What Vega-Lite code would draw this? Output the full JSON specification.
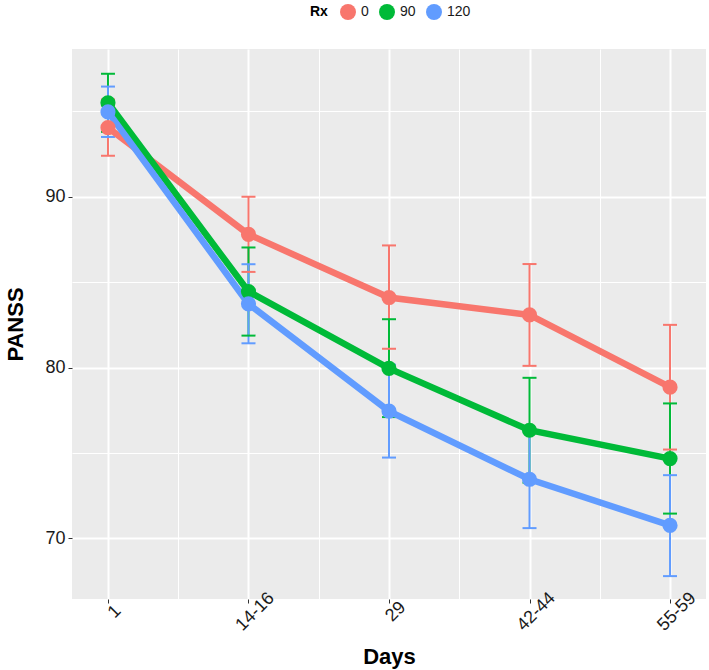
{
  "$schema": "https://vega.github.io/schema/vega-lite/v6.json",
  "autosize": {"type": "none"},
  "width": 634,
  "height": 550,
  "padding": {"left": 72, "top": 49, "right": 3, "bottom": 71},
  "background": "white",
  "config": {
    "font": "Liberation Sans",
    "view": {"fill": "#EBEBEB", "stroke": null},
    "axis": {
      "domain": false,
      "gridColor": "white",
      "tickColor": "#333333",
      "tickWidth": 1,
      "tickSize": 4,
      "labelColor": "#1a1a1a",
      "labelFontSize": 18,
      "labelPadding": 3,
      "titleFontSize": 22,
      "titleFontWeight": "bold",
      "titleColor": "black"
    }
  },
  "data": {
    "values": [
      {"Rx": "0", "day": "1", "idx": 1, "mean": 94.05, "lo": 92.4, "hi": 95.7},
      {"Rx": "0", "day": "14-16", "idx": 2, "mean": 87.8, "lo": 85.6, "hi": 90.0},
      {"Rx": "0", "day": "29", "idx": 3, "mean": 84.1, "lo": 81.1, "hi": 87.15},
      {"Rx": "0", "day": "42-44", "idx": 4, "mean": 83.08, "lo": 80.1, "hi": 86.06},
      {"Rx": "0", "day": "55-59", "idx": 5, "mean": 78.85, "lo": 75.2, "hi": 82.5},
      {"Rx": "90", "day": "1", "idx": 1, "mean": 95.5, "lo": 93.8, "hi": 97.2},
      {"Rx": "90", "day": "14-16", "idx": 2, "mean": 84.45, "lo": 81.87, "hi": 87.03},
      {"Rx": "90", "day": "29", "idx": 3, "mean": 79.95, "lo": 77.1, "hi": 82.83},
      {"Rx": "90", "day": "42-44", "idx": 4, "mean": 76.33, "lo": 73.26, "hi": 79.4},
      {"Rx": "90", "day": "55-59", "idx": 5, "mean": 74.67, "lo": 71.45, "hi": 77.9},
      {"Rx": "120", "day": "1", "idx": 1, "mean": 94.97, "lo": 93.5, "hi": 96.45},
      {"Rx": "120", "day": "14-16", "idx": 2, "mean": 83.73, "lo": 81.42, "hi": 86.05},
      {"Rx": "120", "day": "29", "idx": 3, "mean": 77.45, "lo": 74.73, "hi": 80.17},
      {"Rx": "120", "day": "42-44", "idx": 4, "mean": 73.46, "lo": 70.6, "hi": 76.32},
      {"Rx": "120", "day": "55-59", "idx": 5, "mean": 70.76, "lo": 67.79, "hi": 73.7}
    ]
  },
  "encoding": {
    "x": {
      "field": "idx",
      "type": "quantitative",
      "title": "Days",
      "scale": {"domain": [0.744, 5.256], "nice": false, "zero": false},
      "axis": {
        "values": [1, 1.5, 2, 2.5, 3, 3.5, 4, 4.5, 5],
        "labelExpr": "datum.value % 1 === 0 ? ['', '1', '14-16', '29', '42-44', '55-59'][datum.value] : ''",
        "labelAngle": -45,
        "labelAlign": "center",
        "labelBaseline": "top",
        "labelPadding": 2,
        "titlePadding": 12,
        "gridWidth": {"condition": {"test": "datum.value % 1 !== 0", "value": 1}, "value": 2},
        "tickOpacity": {"condition": {"test": "datum.value % 1 !== 0", "value": 0}, "value": 1}
      }
    },
    "color": {
      "field": "Rx",
      "type": "nominal",
      "scale": {"domain": ["0", "90", "120"], "range": ["#F8766D", "#00BA38", "#619CFF"]},
      "legend": {
        "orient": "none",
        "direction": "horizontal",
        "legendX": 238,
        "legendY": -45,
        "title": "Rx",
        "titleOrient": "left",
        "titleFontSize": 14,
        "titleFontWeight": "bold",
        "titleColor": "black",
        "titlePadding": 12,
        "labelFontSize": 14,
        "labelColor": "#1a1a1a",
        "symbolType": "circle",
        "symbolSize": 255,
        "symbolStrokeWidth": 0,
        "symbolOpacity": 1,
        "columnPadding": 10,
        "labelOffset": 5
      }
    }
  },
  "layer": [
    {
      "mark": {"type": "rule", "strokeWidth": 2, "opacity": 1},
      "encoding": {
        "y": {"field": "lo", "type": "quantitative"},
        "y2": {"field": "hi"}
      }
    },
    {
      "mark": {"type": "tick", "orient": "horizontal", "size": 14, "thickness": 2, "opacity": 1},
      "encoding": {"y": {"field": "lo", "type": "quantitative"}}
    },
    {
      "mark": {"type": "tick", "orient": "horizontal", "size": 14, "thickness": 2, "opacity": 1},
      "encoding": {"y": {"field": "hi", "type": "quantitative"}}
    },
    {
      "mark": {"type": "line", "strokeWidth": 6.5, "opacity": 1},
      "encoding": {"y": {"field": "mean", "type": "quantitative"}}
    },
    {
      "mark": {"type": "point", "filled": true, "size": 230, "opacity": 1},
      "encoding": {
        "y": {
          "field": "mean",
          "type": "quantitative",
          "title": "PANSS",
          "scale": {"domain": [66.45, 98.65], "nice": false, "zero": false},
          "axis": {
            "values": [70, 75, 80, 85, 90, 95],
            "labelExpr": "datum.value % 10 === 0 ? datum.label : ''",
            "titlePadding": 17,
            "gridWidth": {"condition": {"test": "datum.value % 10 !== 0", "value": 1}, "value": 2},
            "tickOpacity": {"condition": {"test": "datum.value % 10 !== 0", "value": 0}, "value": 1}
          }
        }
      }
    }
  ]
}
